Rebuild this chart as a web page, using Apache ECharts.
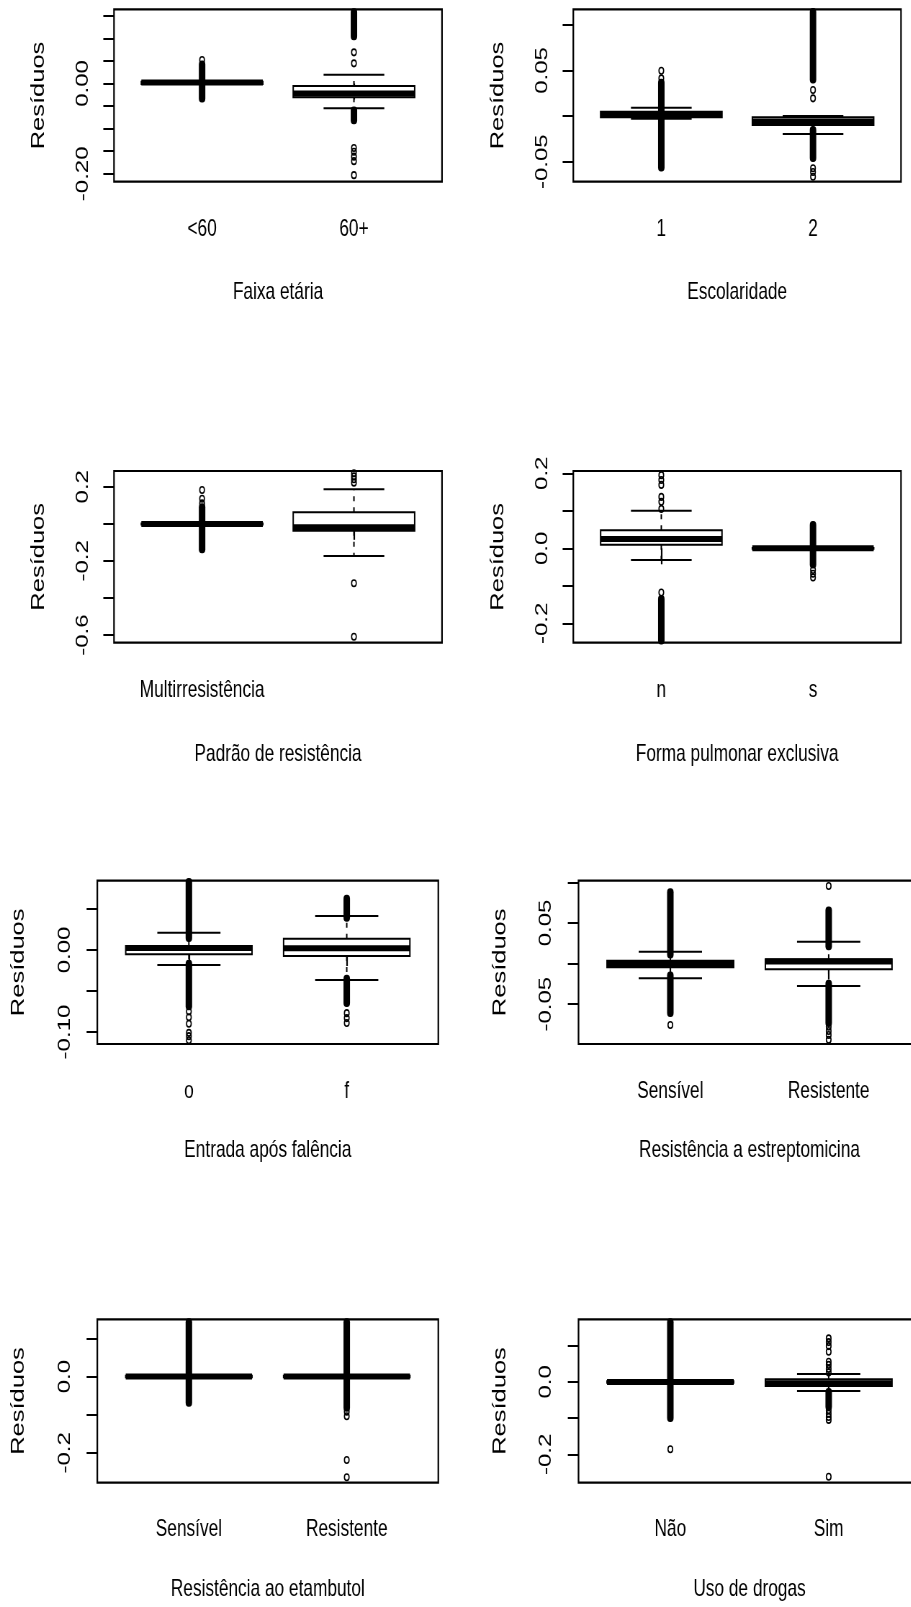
<!DOCTYPE html>
<html>
<head>
<meta charset="utf-8">
<script src="https://cdn.jsdelivr.net/npm/echarts@6/dist/echarts.min.js"></script>
<style>
  html, body { margin: 0; padding: 0; background: #fff; overflow: hidden; }
  #wrap { width: 911px; height: 1607px; overflow: hidden; position: relative; }
  /* the drawing is laid out wide and squeezed horizontally */
  #chart { position: absolute; left: 0; top: 0; width: 1266px; height: 1607px;
           transform: scaleX(0.72); transform-origin: 0 0; }
</style>
</head>
<body>
<div id="wrap"><div id="chart"></div></div>
<script>
// ---------- data: residuals by covariate ----------
// boxes: [group, lowerWhisker, Q1, median, Q3, upperWhisker]
// bands: [group, top, bottom] -> runs of outliers too dense to separate
// pts:   [group, value]       -> individual outliers

const faixaCats = ['<60', '60+'];
const faixaBoxes = [[1, -0.001, -0.001, 0.002, 0.004, 0.004], [2, -0.055, -0.0306, -0.022, -0.0055, 0.0195]];
const faixaBands = [[1, 0.043, -0.034], [2, 0.159, 0.1037], [2, -0.0587, -0.0824]];
const faixaPts = [[1, 0.052], [2, 0.069], [2, 0.0447], [2, -0.143], [2, -0.151], [2, -0.162], [2, -0.172], [2, -0.203]];
const faixaTicks = [-0.20, -0.15, -0.10, -0.05, 0.00, 0.05, 0.10, 0.15];
const faixaLabels = [-0.20, 0.00];

const escolCats = ['1', '2'];
const escolBoxes = [[1, -0.003, -0.0014, 0.0016, 0.0047, 0.0091], [2, -0.0197, -0.0099, -0.006, -0.0014, 0.0]];
const escolBands = [[1, 0.037, -0.057], [2, 0.1144, 0.0395], [2, -0.015, -0.0464]];
const escolPts = [[1, 0.0497], [1, 0.0413], [2, 0.0285], [2, 0.0194], [2, -0.0573], [2, -0.0614], [2, -0.0666]];
const escolTicks = [-0.05, 0.00, 0.05, 0.10];
const escolLabels = [-0.05, 0.05];

const padraoCats = ['Multirresistência', ''];
const padraoBoxes = [[1, -0.004, -0.004, -0.001, 0.002, 0.002], [2, -0.174, -0.037, -0.019, 0.062, 0.186]];
const padraoBands = [[1, 0.092, -0.14]];
const padraoPts = [[1, 0.182], [1, 0.135], [1, 0.11], [2, 0.272], [2, 0.256], [2, 0.24], [2, 0.222], [2, -0.321], [2, -0.609]];
const padraoTicks = [-0.6, -0.4, -0.2, 0.0, 0.2];
const padraoLabels = [-0.6, -0.2, 0.2];

const formaCats = ['n', 's'];
const formaBoxes = [[1, -0.0312, 0.0096, 0.025, 0.048, 0.1003], [2, -0.001, -0.001, 0.0, 0.001, 0.001]];
const formaBands = [[1, -0.134, -0.247], [2, 0.0635, -0.0445]];
const formaPts = [[1, 0.195], [1, 0.182], [1, 0.169], [1, 0.137], [1, 0.124], [1, 0.105], [1, -0.118], [2, -0.058], [2, -0.068], [2, -0.078]];
const formaTicks = [-0.2, -0.1, 0.0, 0.1, 0.2];
const formaLabels = [-0.2, 0.0, 0.2];

const entradaCats = ['o', 'f'];
const entradaBoxes = [[1, -0.0183, -0.0052, 0.0025, 0.005, 0.0211], [2, -0.0366, -0.0073, 0.002, 0.0138, 0.0415]];
const entradaBands = [[1, 0.0833, 0.0143], [1, -0.0162, -0.0691], [2, 0.063, 0.0387], [2, -0.0345, -0.065]];
const entradaPts = [[1, -0.075], [1, -0.082], [1, -0.090], [1, -0.101], [1, -0.105], [1, -0.110], [2, -0.077], [2, -0.083], [2, -0.089]];
const entradaTicks = [-0.10, -0.05, 0.00, 0.05];
const entradaLabels = [-0.10, 0.00];

const estrepCats = ['Sensível', 'Resistente'];
const estrepBoxes = [[1, -0.0182, -0.0047, -0.0006, 0.0034, 0.0145], [2, -0.0277, -0.0071, 0.0025, 0.0052, 0.0268]];
const estrepBands = [[1, 0.0884, 0.0105], [1, -0.0142, -0.0613], [2, 0.0659, 0.0207], [2, -0.0244, -0.0736]];
const estrepPts = [[1, -0.0757], [2, 0.0954], [2, -0.0778], [2, -0.083], [2, -0.088], [2, -0.094]];
const estrepTicks = [-0.05, 0.00, 0.05, 0.10];
const estrepLabels = [-0.05, 0.05];

const etambCats = ['Sensível', 'Resistente'];
const etambBoxes = [[1, -0.002, -0.002, 0.0, 0.002, 0.002], [2, -0.002, -0.002, 0.0, 0.002, 0.002]];
const etambBands = [[1, 0.144, -0.070], [2, 0.144, -0.083]];
const etambPts = [[2, -0.092], [2, -0.104], [2, -0.219], [2, -0.264]];
const etambTicks = [-0.2, -0.1, 0.0, 0.1];
const etambLabels = [-0.2, 0.0];

const drogasCats = ['Não', 'Sim'];
const drogasBoxes = [[1, -0.002, -0.002, 0.0, 0.002, 0.002], [2, -0.0251, -0.0113, -0.004, 0.0072, 0.0218]];
const drogasBands = [[1, 0.166, -0.1006], [2, -0.027, -0.07]];
const drogasPts = [[1, -0.186], [2, 0.1204], [2, 0.110], [2, 0.099], [2, 0.0834], [2, 0.0558], [2, 0.047], [2, 0.036], [2, 0.026],
                   [2, -0.078], [2, -0.088], [2, -0.097], [2, -0.105], [2, -0.262]];
const drogasTicks = [-0.2, -0.1, 0.0, 0.1];
const drogasLabels = [-0.2, 0.0];

const yName = 'Resíduos';

// ---------- panel setup ----------
const panels = [
  { title: 'Faixa etária', cats: faixaCats, boxes: faixaBoxes, bands: faixaBands, pts: faixaPts, ticks: faixaTicks, labels: faixaLabels, dec: 2, yMin: -0.2175, yMax: 0.1644 },
  { title: 'Escolaridade', cats: escolCats, boxes: escolBoxes, bands: escolBands, pts: escolPts, ticks: escolTicks, labels: escolLabels, dec: 2, yMin: -0.072, yMax: 0.117 },
  { title: 'Padrão de resistência', cats: padraoCats, boxes: padraoBoxes, bands: padraoBands, pts: padraoPts, ticks: padraoTicks, labels: padraoLabels, dec: 1, yMin: -0.6413, yMax: 0.2848 },
  { title: 'Forma pulmonar exclusiva', cats: formaCats, boxes: formaBoxes, bands: formaBands, pts: formaPts, ticks: formaTicks, labels: formaLabels, dec: 1, yMin: -0.2517, yMax: 0.2061 },
  { title: 'Entrada após falência', cats: entradaCats, boxes: entradaBoxes, bands: entradaBands, pts: entradaPts, ticks: entradaTicks, labels: entradaLabels, dec: 2, yMin: -0.1146, yMax: 0.0845 },
  { title: 'Resistência a estreptomicina', cats: estrepCats, boxes: estrepBoxes, bands: estrepBands, pts: estrepPts, ticks: estrepTicks, labels: estrepLabels, dec: 2, yMin: -0.0991, yMax: 0.102 },
  { title: 'Resistência ao etambutol', cats: etambCats, boxes: etambBoxes, bands: etambBands, pts: etambPts, ticks: etambTicks, labels: etambLabels, dec: 1, yMin: -0.2785, yMax: 0.1504 },
  { title: 'Uso de drogas', cats: drogasCats, boxes: drogasBoxes, bands: drogasBands, pts: drogasPts, ticks: drogasTicks, labels: drogasLabels, dec: 1, yMin: -0.2785, yMax: 0.173 }
];

// plot frames on the page: [left, top, width, height] in page pixels
const frames = [
  [114, 9.3, 328, 172.4], [573.3, 9.3, 327.7, 172.4],
  [114, 471, 328, 171.7], [573.3, 471, 327.7, 171.7],
  [97.3, 880.7, 341, 163.3], [578.5, 880.7, 342, 163.3],
  [97.3, 1319.3, 341, 163.4], [578.5, 1319.3, 342, 163.4]
];
// spacing of labels and titles per row
const rowText = [
  { xMargin: 36, xGap: 99, yMargin: 31, yGap: 91 },
  { xMargin: 36, xGap: 100, yMargin: 31, yGap: 91 },
  { xMargin: 35, xGap: 94, yMargin: 33, yGap: 96 },
  { xMargin: 35, xGap: 95, yMargin: 33, yGap: 96 }
];

const SX = 0.72;          // horizontal squeeze of the canvas
const BOX_W = 0.8;        // box width in group units
const FONT = 'Liberation Sans, Arial, sans-serif';
const INK = '#000';

function renderBox(params, api) {
  const x = api.value(0);
  const lo = api.value(1), q1 = api.value(2), md = api.value(3), q3 = api.value(4), hi = api.value(5);
  const xl = api.coord([x - BOX_W / 2, q3])[0];
  const xr = api.coord([x + BOX_W / 2, q1])[0];
  const xc = api.coord([x, md])[0];
  const xcl = api.coord([x - BOX_W / 4, md])[0];
  const xcr = api.coord([x + BOX_W / 4, md])[0];
  const yq3 = api.coord([x, q3])[1], yq1 = api.coord([x, q1])[1];
  const ymd = api.coord([x, md])[1];
  const yhi = api.coord([x, hi])[1], ylo = api.coord([x, lo])[1];
  const thin = { stroke: INK, lineWidth: 2, fill: null };
  const kids = [];
  if (hi > q3) {
    kids.push({ type: 'line', shape: { x1: xc, y1: yq3, x2: xc, y2: yhi }, style: Object.assign({}, thin, { lineDash: [5, 6] }) });
    kids.push({ type: 'line', shape: { x1: xcl, y1: yhi, x2: xcr, y2: yhi }, style: thin });
  }
  if (lo < q1) {
    kids.push({ type: 'line', shape: { x1: xc, y1: yq1, x2: xc, y2: ylo }, style: Object.assign({}, thin, { lineDash: [5, 6] }) });
    kids.push({ type: 'line', shape: { x1: xcl, y1: ylo, x2: xcr, y2: ylo }, style: thin });
  }
  kids.push({ type: 'rect', shape: { x: xl, y: yq3, width: xr - xl, height: yq1 - yq3 }, style: { fill: '#fff', stroke: INK, lineWidth: 2 } });
  kids.push({ type: 'line', shape: { x1: xl, y1: ymd, x2: xr, y2: ymd }, style: { stroke: INK, lineWidth: 6 } });
  return { type: 'group', children: kids };
}

function renderBand(params, api) {
  const x = api.value(0);
  const top = api.coord([x, api.value(1)]);
  const bot = api.coord([x, api.value(2)]);
  const w = 9, ext = 3.6;
  return {
    type: 'rect',
    shape: { x: top[0] - w / 2, y: top[1] - ext, width: w, height: bot[1] - top[1] + 2 * ext, r: 4 },
    style: { fill: INK }
  };
}

const grid = [], xAxis = [], yAxis = [], series = [];
panels.forEach((p, i) => {
  const f = frames[i];
  const t = rowText[Math.floor(i / 2)];
  grid.push({
    left: f[0] / SX, top: f[1], width: f[2] / SX, height: f[3],
    show: true, borderColor: INK, borderWidth: 2.2, backgroundColor: 'transparent',
    containLabel: false, outerBoundsMode: 'none'
  });
  xAxis.push({
    type: 'value', gridIndex: i, min: 0.42, max: 2.58,
    axisLine: { show: false }, splitLine: { show: false },
    axisTick: { show: true, customValues: [1, 2], length: 16, lineStyle: { color: INK, width: 2.2 } },
    axisLabel: {
      show: true, customValues: [1, 2], margin: t.xMargin,
      formatter: v => p.cats[Math.round(v) - 1],
      fontSize: 24, color: INK, fontFamily: FONT
    },
    name: p.title, nameLocation: 'middle', nameGap: t.xGap,
    nameTextStyle: { fontSize: 24, color: INK, fontFamily: FONT }
  });
  yAxis.push({
    type: 'value', gridIndex: i, min: p.yMin, max: p.yMax,
    axisLine: { show: false }, splitLine: { show: false },
    axisTick: { show: true, customValues: p.ticks, length: 10.7 / SX, lineStyle: { color: INK, width: 2 } },
    axisLabel: {
      show: true, customValues: p.labels, rotate: 90, margin: t.yMargin,
      formatter: v => Number(v).toFixed(p.dec),
      fontSize: 24, color: INK, fontFamily: FONT
    },
    name: yName, nameLocation: 'middle', nameGap: t.yGap, nameRotate: 90,
    nameTextStyle: { fontSize: 25.5, color: INK, fontFamily: FONT }
  });
  series.push({
    type: 'custom', xAxisIndex: i, yAxisIndex: i, renderItem: renderBand,
    data: p.bands, encode: { x: 0, y: [1, 2] }, silent: true, z: 2
  });
  series.push({
    type: 'custom', xAxisIndex: i, yAxisIndex: i, renderItem: renderBox,
    data: p.boxes, encode: { x: 0, y: [1, 2, 3, 4, 5] }, silent: true, z: 3
  });
  series.push({
    type: 'scatter', xAxisIndex: i, yAxisIndex: i, data: p.pts,
    symbol: 'circle', symbolSize: 6.5, clip: false,
    itemStyle: { color: 'rgba(0,0,0,0)', borderColor: INK, borderWidth: 1.6, opacity: 1 },
    silent: true, z: 4
  });
});

const chart = echarts.init(document.getElementById('chart'), null, { renderer: 'canvas' });
chart.setOption({
  backgroundColor: '#fff',
  animation: false,
  grid, xAxis, yAxis, series
});
</script>
</body>
</html>
